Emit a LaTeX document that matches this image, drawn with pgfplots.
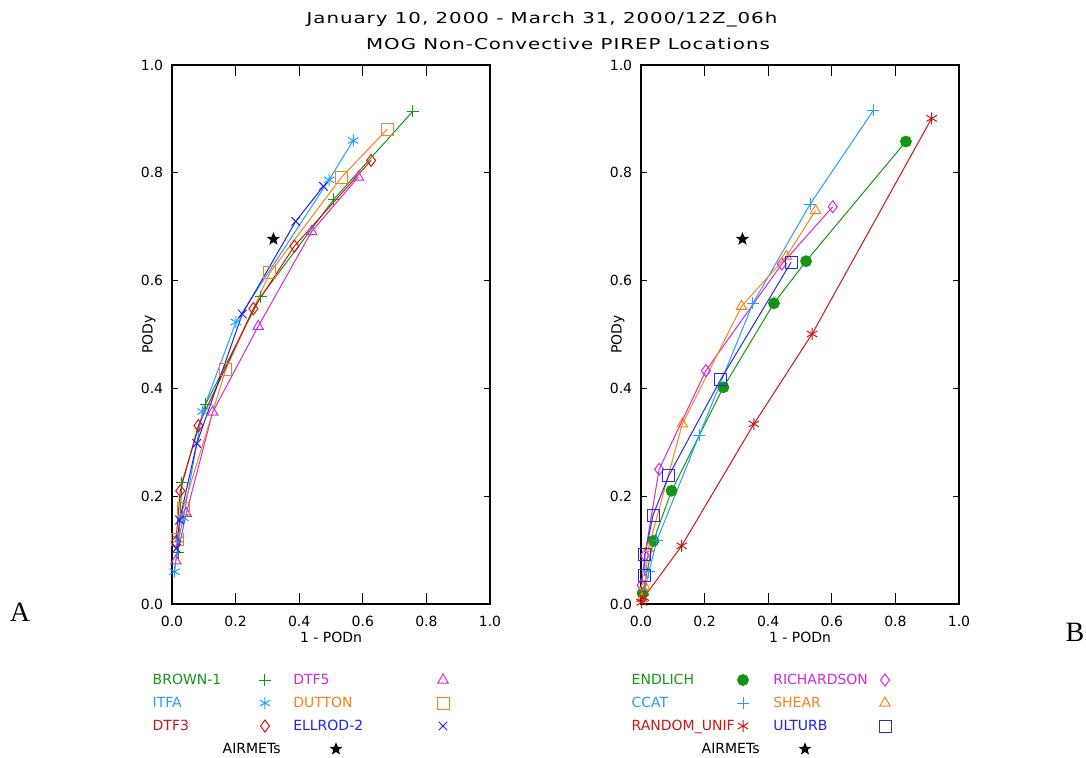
\documentclass[border=0pt]{standalone}
\usepackage{fontspec}
\usepackage{pgfplots}
\pgfplotsset{compat=1.18}
\setmainfont{DejaVu Sans}
\newfontfamily\titlefont[LetterSpace=5]{DejaVu Sans}
\newfontfamily\seriffont{Liberation Serif}
\definecolor{cgreen}{RGB}{20,150,20}
\definecolor{clblue}{RGB}{30,160,255}
\definecolor{cred}{RGB}{205,20,20}
\definecolor{cmag}{RGB}{210,40,220}
\definecolor{corange}{RGB}{255,130,20}
\definecolor{cblue}{RGB}{30,30,245}
\definecolor{culturb}{RGB}{40,40,240}
\definecolor{cdutton}{RGB}{252,128,24}
\definecolor{cccat}{RGB}{34,158,252}
\definecolor{tgreen}{RGB}{22,148,22}
\definecolor{tlblue}{RGB}{32,158,253}
\definecolor{tred}{RGB}{203,22,22}
\definecolor{tmag}{RGB}{208,42,218}
\definecolor{torange}{RGB}{253,128,22}
\definecolor{tblue}{RGB}{32,32,243}
\pgfdeclareplotmark{fstar}{%
  \pgfpathmoveto{\pgfpointpolar{90}{\pgfplotmarksize}}%
  \pgfpathlineto{\pgfpointpolar{126}{0.42\pgfplotmarksize}}%
  \pgfpathlineto{\pgfpointpolar{162}{\pgfplotmarksize}}%
  \pgfpathlineto{\pgfpointpolar{198}{0.42\pgfplotmarksize}}%
  \pgfpathlineto{\pgfpointpolar{234}{\pgfplotmarksize}}%
  \pgfpathlineto{\pgfpointpolar{270}{0.42\pgfplotmarksize}}%
  \pgfpathlineto{\pgfpointpolar{306}{\pgfplotmarksize}}%
  \pgfpathlineto{\pgfpointpolar{342}{0.42\pgfplotmarksize}}%
  \pgfpathlineto{\pgfpointpolar{18}{\pgfplotmarksize}}%
  \pgfpathlineto{\pgfpointpolar{54}{0.42\pgfplotmarksize}}%
  \pgfpathclose
  \pgfusepathqfillstroke}
\newcommand{\legbox}[1]{\pgfpathrectangle{\pgfpoint{-4pt}{-3pt}}{\pgfpoint{#1}{6pt}}\pgfusepath{use as bounding box}}
\pgfplotsset{
  rocaxis/.style={
    scale only axis, width=159pt, height=269.5pt,
    xmin=0, xmax=1, ymin=0, ymax=1,
    xtick={0,0.2,0.4,0.6,0.8,1}, ytick={0,0.2,0.4,0.6,0.8,1},
    minor tick num=0, tick align=inside,
    xtick style={/pgfplots/major tick length=5.4pt, line width=0.5pt, black},
    ytick style={/pgfplots/major tick length=3.2pt, line width=0.5pt, black},
    axis line style={line width=0.6pt},
    tick label style={font=\fontsize{7}{8}\selectfont},
    label style={font=\fontsize{7}{8}\selectfont},
    xticklabel style={anchor=center, yshift=-8.5pt},
    yticklabel style={anchor=center, xshift=-10pt},
    /pgf/number format/fixed, /pgf/number format/fixed zerofill,
    /pgf/number format/precision=1, /pgf/number format/assume math mode=true,
    xlabel={1 - PODn}, ylabel={PODy},
    xlabel style={at={(axis description cs:0.5,0)}, anchor=center, yshift=-16.5pt},
    ylabel style={at={(axis description cs:0,0.5)}, anchor=center, yshift=11.5pt},
    every axis plot/.append style={line width=0.5pt},
    mark size=3pt,
    legend columns=2, legend plot pos=right, legend cell align=left,
  },
  legbase/.style={
    legend style={draw=none, fill=none, inner sep=0pt, outer sep=0pt,
      at={(0,0)}, anchor=north west, row sep=4.5pt, column sep=0pt,
      font=\fontsize{7}{8}\selectfont,
      nodes={inner sep=0pt, text height=5.5pt, text depth=1.5pt}},
  },
  ser/.style n args={2}{color=#1, draw=#1, mark=#2,
    mark options={solid, line width=0.5pt, draw=#1, fill=none}},
}
\pgfplotstableread{
x y
0.019 0.095
0.031 0.225
0.106 0.371
0.279 0.570
0.509 0.751
0.757 0.914
}\brown
\pgfplotstableread{
x y
0.008 0.060
0.020 0.120
0.036 0.160
0.096 0.357
0.201 0.523
0.494 0.787
0.570 0.860
}\itfa
\pgfplotstableread{
x y
0.012 0.115
0.026 0.210
0.083 0.331
0.256 0.548
0.385 0.664
0.626 0.823
}\dtfthree
\pgfplotstableread{
x y
0.012 0.080
0.045 0.168
0.128 0.356
0.271 0.515
0.439 0.691
0.586 0.792
}\dtffive
\pgfplotstableread{
x y
0.016 0.120
0.035 0.178
0.169 0.435
0.308 0.615
0.532 0.791
0.677 0.881
}\dutton
\pgfplotstableread{
x y
0.014 0.103
0.024 0.156
0.078 0.298
0.221 0.538
0.389 0.710
0.476 0.775
}\ellrod
\pgfplotstableread{
x y
0.005 0.020
0.039 0.117
0.096 0.210
0.259 0.402
0.418 0.558
0.519 0.636
0.833 0.858
}\endlich
\pgfplotstableread{
x y
0.003 0.008
0.025 0.060
0.050 0.118
0.183 0.313
0.352 0.558
0.532 0.742
0.731 0.916
}\ccat
\pgfplotstableread{
x y
0.002 0.003
0.009 0.012
0.128 0.108
0.355 0.334
0.538 0.501
0.914 0.901
}\randunif
\pgfplotstableread{
x y
0.002 0.035
0.012 0.090
0.057 0.250
0.204 0.433
0.443 0.631
0.603 0.737
}\richardson
\pgfplotstableread{
x y
0.003 0.010
0.012 0.033
0.023 0.103
0.130 0.334
0.316 0.552
0.457 0.645
0.549 0.730
}\shear
\pgfplotstableread{
x y
0.012 0.052
0.012 0.091
0.038 0.165
0.087 0.238
0.250 0.416
0.472 0.634
}\ulturb
\begin{document}
\begin{tikzpicture}
\path[use as bounding box] (-86pt,-76.5pt) rectangle (457pt,302pt);
% Left panel
\begin{axis}[rocaxis, legbase, at={(0pt,0pt)}, anchor=south west,
  legend style={xshift=-9.65pt, yshift=-34.5pt,
    /tikz/column 1/.style={nodes={text width=52.15pt}},
    /tikz/column 3/.style={nodes={text width=70.85pt}}},
  legend image code/.code={\legbox{18.15pt}\draw[#1, only marks] plot coordinates {(0pt,0pt)};},
]
\addplot[ser={cgreen}{+}] table {\brown};
\addlegendentry[text=tgreen]{BROWN-1}
\addplot[ser={cmag}{triangle}] table {\dtffive};
\addlegendentry[text=tmag]{DTF5}
\addplot[ser={clblue}{asterisk}] table {\itfa};
\addlegendentry[text=tlblue]{ITFA}
\addplot[ser={cdutton}{square}] table {\dutton};
\addlegendentry[text=torange]{DUTTON}
\addplot[ser={cred}{diamond}] table {\dtfthree};
\addlegendentry[text=tred]{DTF3}
\addplot[ser={cblue}{x}] table {\ellrod};
\addlegendentry[text=tblue]{ELLROD-2}
\addplot[forget plot, only marks, black, mark=fstar, mark size=2.8pt, mark options={fill=black, draw=black}] coordinates {(0.319,0.677)};
\end{axis}
\begin{axis}[hide axis, scale only axis, width=159pt, height=269.5pt, xmin=0, xmax=1, ymin=0, ymax=1,
  at={(0pt,0pt)}, anchor=south west, legbase, legend plot pos=right, legend cell align=left,
  legend style={xshift=25.35pt, yshift=-69pt, /tikz/column 1/.style={nodes={text width=52.65pt}}},
  legend image code/.code={\legbox{8pt}\draw[#1, only marks] plot coordinates {(0pt,0pt)};},
]
\addlegendimage{only marks, black, mark=fstar, mark size=2.8pt, mark options={fill=black, draw=black}}
\addlegendentry{AIRMETs}
\end{axis}
% Right panel
\begin{axis}[rocaxis, legbase, at={(234.5pt,0pt)}, anchor=south west,
  legend style={xshift=-4.65pt, yshift=-34.5pt,
    /tikz/column 1/.style={nodes={text width=51.65pt}},
    /tikz/column 3/.style={nodes={text width=51.85pt}}},
  legend image code/.code={\legbox{19.15pt}\draw[#1, only marks] plot coordinates {(0pt,0pt)};},
]
\addplot[ser={cgreen}{*}, mark size=2.7pt, mark options={fill=cgreen}] table {\endlich};
\addlegendentry[text=tgreen]{ENDLICH}
\addplot[ser={cmag}{diamond}] table {\richardson};
\addlegendentry[text=tmag]{RICHARDSON}
\addplot[ser={cccat}{+}] table {\ccat};
\addlegendentry[text=tlblue]{CCAT}
\addplot[ser={corange}{triangle}] table {\shear};
\addlegendentry[text=torange]{SHEAR}
\addplot[ser={cred}{asterisk}] table {\randunif};
\addlegendentry[text=tred]{RANDOM\_UNIF}
\addplot[ser={culturb}{square}] table {\ulturb};
\addlegendentry[text=tblue]{ULTURB}
\addplot[forget plot, only marks, black, mark=fstar, mark size=2.8pt, mark options={fill=black, draw=black}] coordinates {(0.319,0.677)};
\end{axis}
\begin{axis}[hide axis, scale only axis, width=159pt, height=269.5pt, xmin=0, xmax=1, ymin=0, ymax=1,
  at={(234.5pt,0pt)}, anchor=south west, legbase, legend plot pos=right, legend cell align=left,
  legend style={xshift=30.35pt, yshift=-69pt, /tikz/column 1/.style={nodes={text width=47.65pt}}},
  legend image code/.code={\legbox{8pt}\draw[#1, only marks] plot coordinates {(0pt,0pt)};},
]
\addlegendimage{only marks, black, mark=fstar, mark size=2.8pt, mark options={fill=black, draw=black}}
\addlegendentry{AIRMETs}
\end{axis}
% Titles and panel letters
\node[font=\titlefont\fontsize{7.5}{9}\selectfont, anchor=center] at (185pt,292pt) {\scalebox{1.32}[1]{January 10, 2000 - March 31, 2000/12Z\_06h}};
\node[font=\titlefont\fontsize{7.5}{9}\selectfont, anchor=center] at (198pt,280pt) {\scalebox{1.32}[1]{MOG Non-Convective PIREP Locations}};
\node[font=\seriffont\fontsize{14}{16}\selectfont, anchor=center] at (-76pt,-4pt) {A};
\node[font=\seriffont\fontsize{14}{16}\selectfont, anchor=center] at (451.5pt,-14pt) {B};
\end{tikzpicture}
\end{document}
